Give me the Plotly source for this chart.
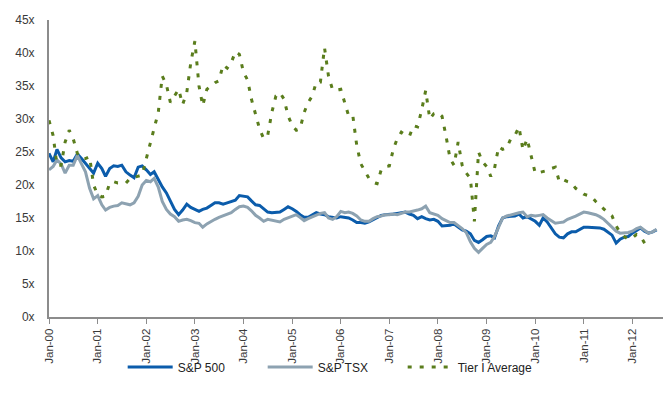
import pandas as pd
import plotly.graph_objects as go

# Monthly forward P/E multiples, Jan 2000 onward
months = pd.date_range("2000-01-01", periods=151, freq="MS")

sp500 = [
    24.8, 23.5, 25.4, 24.1, 23.5, 23.7, 23.6, 24.7, 24.0, 23.3, 22.6, 21.8,
    23.3, 22.5, 21.3, 22.5, 22.9, 22.8, 23.0, 22.0, 21.5, 21.1, 22.7, 22.9,
    22.3, 21.6, 22.0, 20.8, 19.7, 18.8, 17.5, 16.3, 15.5, 16.2, 17.1, 16.6,
    16.3, 16.0, 16.3, 16.5, 16.9, 17.3, 17.3, 17.1, 17.3, 17.5, 17.7, 18.4,
    18.3, 18.2, 17.6, 17.0, 16.9, 16.4, 15.9, 15.8, 15.9, 15.9, 16.3, 16.7,
    16.4, 16.0, 15.5, 15.1, 15.1, 15.5, 15.8, 15.6, 15.5, 15.2, 15.1, 15.0,
    15.2, 15.1, 15.0, 14.7, 14.3, 14.3, 14.2, 14.4, 14.7, 15.0, 15.4, 15.5,
    15.5, 15.6, 15.7, 15.8, 15.9, 15.6, 15.4, 14.9, 15.2, 14.9, 14.7, 14.8,
    14.5, 13.8, 13.8, 13.9, 14.1, 13.6, 13.2, 13.0, 12.6, 11.6, 11.3, 11.7,
    12.2, 12.3, 12.0, 13.8, 15.0, 15.2, 15.2, 15.3, 15.6, 15.0, 15.2, 14.9,
    14.5, 13.9, 15.0, 14.4, 13.5, 12.6, 12.1, 12.0, 12.6, 12.9, 12.9, 13.3,
    13.6, 13.6, 13.6, 13.5, 13.5, 13.3, 12.9, 12.4, 11.2, 11.8, 12.1, 12.2,
    12.7, 13.1, 13.5, 13.0, 12.7, 12.9, 13.2,
]

sptsx = [
    22.3, 22.8, 23.8, 23.2, 21.8, 23.0, 23.0, 24.5, 23.2, 22.0, 19.5, 17.9,
    18.4, 17.0, 16.2, 16.6, 16.8, 16.9, 17.3, 17.2, 17.0, 17.3, 18.3, 20.0,
    20.7, 20.5, 21.0, 19.7, 17.5, 16.3, 15.6, 15.2, 14.5, 14.7, 14.8, 14.6,
    14.3, 14.2, 13.6, 14.1, 14.5, 14.8, 15.1, 15.3, 15.5, 15.8, 16.3, 16.7,
    16.8, 16.6, 16.1, 15.4, 15.0, 14.5, 14.8, 14.7, 14.5, 14.4, 14.8, 15.0,
    15.3, 15.5, 15.1, 14.6, 14.9, 15.2, 15.5, 15.7, 15.8, 15.0, 14.8, 15.2,
    16.0, 15.8, 15.9, 15.7, 15.3, 14.7, 14.5, 14.5, 14.9, 15.2, 15.3, 15.5,
    15.5, 15.6, 15.5, 15.7, 15.9, 15.9, 16.0, 16.2, 16.4, 16.8, 15.8, 15.6,
    15.4, 14.9, 14.6, 14.3, 14.3, 13.9, 13.4, 12.8, 11.4, 10.4, 9.8, 10.4,
    11.0, 11.3, 12.2, 13.6, 15.0, 15.3, 15.5, 15.6, 15.8, 15.9, 15.2, 15.4,
    15.3, 15.4, 15.5, 15.0, 14.6, 14.2, 14.3, 14.4, 14.8, 15.0, 15.3, 15.6,
    15.9, 15.8, 15.7, 15.5, 15.2, 14.8, 14.2, 13.6, 13.0, 12.7, 12.7, 12.8,
    13.0, 13.4, 13.6, 13.2, 12.7, 12.9, 13.3,
]

tier1_avg = [
    29.8, 27.5, 23.0, 23.0, 26.5, 28.3, 27.0, 24.8, 24.0, 24.0, 24.3, 20.0,
    18.5, 18.2, 18.3, 20.3, 20.5, 20.3, 20.3, 20.3, 21.0, 21.2, 21.4, 21.5,
    24.0, 26.5, 28.5, 31.0, 36.5, 35.2, 32.5, 33.5, 34.5, 32.2, 34.0, 38.5,
    41.8, 35.0, 32.0, 34.5, 35.0, 35.5, 35.8, 38.2, 37.7, 38.5, 40.2, 39.8,
    37.1, 35.9, 33.0, 30.8, 28.5, 27.0, 27.5, 31.0, 33.5, 34.0, 33.0, 30.5,
    29.0, 28.3, 28.5, 31.0, 32.5, 33.5, 35.6, 35.6, 40.8, 36.5, 34.4, 34.4,
    34.5, 32.4, 30.5, 30.6, 26.0, 23.2, 22.0, 21.0, 20.4, 20.2, 22.3, 22.8,
    22.9, 25.5, 27.0, 28.0, 27.6, 27.4, 29.0, 28.8, 31.4, 34.3, 30.0, 30.8,
    31.0, 30.4, 27.5, 24.0, 23.0, 26.5, 23.0, 21.8, 21.0, 14.5, 25.0, 23.5,
    22.8, 21.3, 22.5, 25.8, 25.4, 25.6, 27.0, 27.5, 28.8, 25.3, 27.0, 24.3,
    21.8, 21.9, 22.0, 22.2, 22.5, 22.7, 20.5, 20.8, 20.5, 20.3, 19.5, 19.0,
    18.6, 18.4, 18.2, 17.5, 16.9, 16.4, 15.8, 15.3, 13.8, 12.8, 12.2, 11.8,
    12.0, 12.5, 12.3, 11.2, 10.3,
]

y_ticks = list(range(0, 50, 5))
y_tick_labels = [f"{v}x" for v in y_ticks]

font_family = "Liberation Sans, Arial, sans-serif"
axis_grey = "#8c8c8c"

fig = go.Figure()
fig.add_trace(go.Scatter(
    x=months, y=sp500, name="S&P 500", mode="lines",
    line=dict(color="#0b5cab", width=3),
))
fig.add_trace(go.Scatter(
    x=months, y=sptsx, name="S&P TSX", mode="lines",
    line=dict(color="#8da2b1", width=3),
))
fig.add_trace(go.Scatter(
    x=months[:len(tier1_avg)], y=tier1_avg, name="Tier I Average", mode="lines",
    line=dict(color="#5a7d1c", width=3, dash="4px,8px"),
))

fig.update_layout(
    width=668, height=403,
    margin=dict(l=49, r=5, t=20, b=86),
    paper_bgcolor="white", plot_bgcolor="white",
    font=dict(family=font_family, size=12, color="#3a3a3a"),
    showlegend=True,
    legend=dict(
        orientation="h", x=0.12, xanchor="left", y=-0.168, yanchor="middle",
        font=dict(size=12, color="#222"),
        itemwidth=45,
        entrywidth=80, entrywidthmode="pixels",
        bgcolor="rgba(0,0,0,0)",
    ),
)
fig.update_xaxes(
    range=["2000-01-01", "2012-08-18"],
    tick0="2000-01-01", dtick="M12", tickformat="%b-%y",
    tickangle=-90, ticks="outside", ticklen=5, tickcolor=axis_grey,
    showline=True, linecolor=axis_grey, linewidth=2,
    showgrid=False, zeroline=False,
    tickfont=dict(size=11.5, color="#3a3a3a"),
)
fig.update_yaxes(
    range=[0, 45], tickvals=y_ticks, ticktext=y_tick_labels,
    showline=True, linecolor=axis_grey, linewidth=2,
    showgrid=False, zeroline=False, ticks="",
    ticklabelstandoff=10,
    tickfont=dict(size=12, color="#3a3a3a"),
)

fig.write_html("out.html")
